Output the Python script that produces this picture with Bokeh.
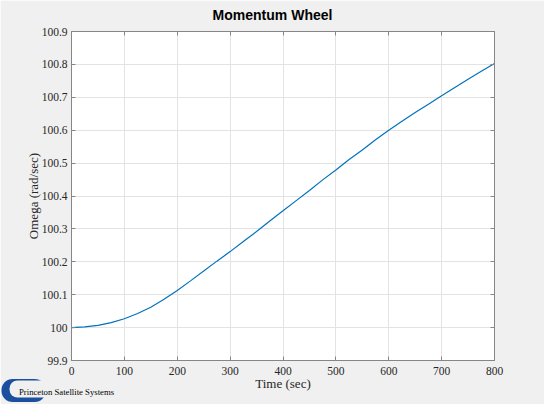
from bokeh.embed import file_html
from bokeh.models import FixedTicker, Label, LinearAxis
from bokeh.plotting import figure
from bokeh.resources import INLINE

# Data
time = [0, 25, 50, 75, 100, 125, 150, 175, 200, 225, 250, 275, 300, 325, 350, 375, 400,
        425, 450, 475, 500, 525, 550, 575, 600, 625, 650, 675, 700, 725, 750, 775, 800]
omega = [100.000, 100.002, 100.007, 100.015, 100.027, 100.043, 100.062, 100.086, 100.113,
         100.142, 100.172, 100.202, 100.231, 100.262, 100.292, 100.324, 100.355, 100.386,
         100.417, 100.449, 100.479, 100.511, 100.540, 100.571, 100.600, 100.627, 100.654,
         100.679, 100.705, 100.730, 100.755, 100.779, 100.803]

x_ticks = [0, 100, 200, 300, 400, 500, 600, 700, 800]
y_ticks = [99.9, 100.0, 100.1, 100.2, 100.3, 100.4, 100.5, 100.6, 100.7, 100.8, 100.9]
y_tick_labels = ["99.9", "100", "100.1", "100.2", "100.3", "100.4", "100.5", "100.6",
                 "100.7", "100.8", "100.9"]

BOX = "#868686"
TEXT = "#262626"
SERIF = "Liberation Serif"
PAPER = "#f0f0f0"

p = figure(
    width=544,
    height=404,
    x_range=(0, 800),
    y_range=(99.9, 100.9),
    output_backend="svg",
    toolbar_location=None,
    background_fill_color="white",
    border_fill_color=PAPER,
    min_border_left=71,
    min_border_right=50,
    min_border_top=31,
    min_border_bottom=44,
    x_axis_label="Time (sec)",
    y_axis_label="Omega (rad/sec)",
)
p.outline_line_color = BOX
p.title.visible = False

p.line(time, omega, line_color="#0072BD", line_width=1.2)

# Axes: MATLAB-like inward ticks
for ax in (p.xaxis[0], p.yaxis[0]):
    ax.major_tick_in = 4
    ax.major_tick_out = 0
    ax.minor_tick_line_color = None
    ax.axis_line_color = BOX
    ax.major_tick_line_color = BOX
    ax.major_label_text_font = SERIF
    ax.major_label_text_font_size = "11.5px"
    ax.major_label_text_color = TEXT
    ax.axis_label_text_font = SERIF
    ax.axis_label_text_font_size = "13px"
    ax.axis_label_text_font_style = "normal"
    ax.axis_label_text_color = TEXT

p.xaxis.ticker = FixedTicker(ticks=x_ticks)
p.yaxis.ticker = FixedTicker(ticks=y_ticks)
p.yaxis.major_label_overrides = dict(zip(y_ticks, y_tick_labels))
p.xaxis.major_label_standoff = 6
p.xaxis.axis_label_standoff = -2
p.yaxis.major_label_standoff = 4
p.yaxis.axis_label_standoff = -2

# Top and right axes with ticks only (closed box)
top = LinearAxis(ticker=FixedTicker(ticks=x_ticks))
right = LinearAxis(ticker=FixedTicker(ticks=y_ticks))
for ax in (top, right):
    ax.major_tick_in = 4
    ax.major_tick_out = 0
    ax.minor_tick_line_color = None
    ax.axis_line_color = BOX
    ax.major_tick_line_color = BOX
    ax.major_label_text_color = None
    ax.major_label_text_font_size = "1px"
    ax.major_label_standoff = 0
p.add_layout(top, "above")
p.add_layout(right, "right")

p.xgrid.ticker = FixedTicker(ticks=x_ticks)
p.ygrid.ticker = FixedTicker(ticks=y_ticks)
p.grid.grid_line_color = "#e3e3e3"

# Title, placed in the top panel so it is not clipped to the frame
p.add_layout(Label(
    x=272, y=14, x_units="canvas", y_units="canvas",
    text="Momentum Wheel", text_font="Liberation Sans", text_font_style="bold",
    text_font_size="14px", text_color="black", text_align="center",
    text_baseline="alphabetic",
), "above")


def pill(cx, cy, width, height, color):
    # a pill shape: a thin label box stroked with a thick round-joined border
    inner = width - height
    return Label(
        x=cx - inner / 2, y=cy, x_units="canvas", y_units="canvas", anchor="center_left",
        text=" ", text_font_size="1px", text_color=color,
        background_fill_color=color, border_line_color=color,
        border_line_width=height, border_line_join="round",
        padding=dict(left=inner // 2, right=inner - inner // 2, top=0, bottom=0),
    )


# Logo: blue crescent (a paper-coloured pill cut out of a blue one);
# kept in the top panel, where there is spare room, but drawn at the bottom
p.add_layout(pill(23, 390, 44, 22, "#1d4f9f"), "above")
p.add_layout(pill(31, 388.5, 44, 16, PAPER), "above")
p.add_layout(Label(
    x=18.5, y=391.5, x_units="canvas", y_units="canvas",
    text="Princeton Satellite Systems", text_font=SERIF, text_font_size="8.7px",
    text_color="black", text_baseline="alphabetic",
), "below")

open("out.html", "w").write(file_html(p, INLINE))
